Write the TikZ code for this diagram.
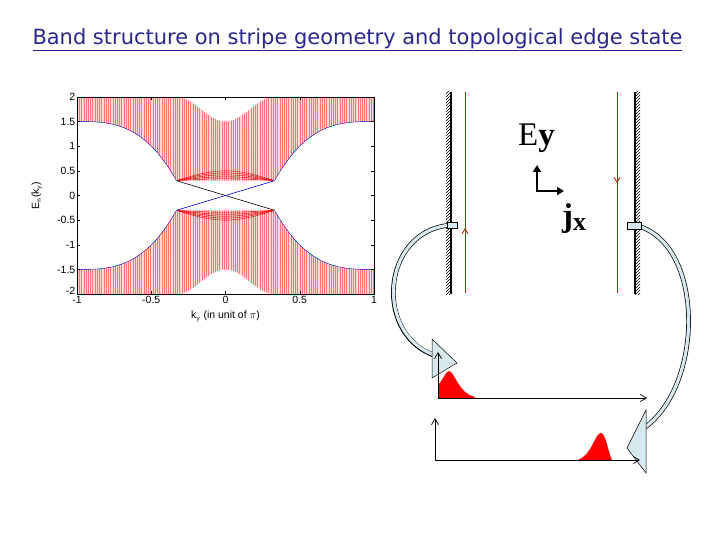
\documentclass[tikz,border=0pt]{standalone}
\usepackage{fontspec}
\setmainfont{Liberation Sans}
\newfontfamily\seriff{Liberation Serif}
\newfontfamily\titlef{DejaVu Sans}
\usetikzlibrary{arrows.meta,patterns}
\definecolor{titleblue}{RGB}{40,40,140}
\definecolor{arrfill}{RGB}{215,232,238}
\tikzset{
  tick/.style={font=\fontsize{10.5}{10.5}\selectfont},
  wall/.style={line width=1.6pt,black},
  edge/.style={red!85!black,line width=0.8pt},
  hollow/.style={draw=black,line width=0.5pt,fill=arrfill},
  ax/.style={line width=0.7pt,-{Straight Barb[length=6pt,width=7pt]}},
  peak/.style={fill=red,draw=none},
}
\begin{document}
\begin{tikzpicture}[x=1pt,y=-1pt,
  declare function={Lo(\k)=(abs(\k)<0.33)?0.3:(1.5-1.2*(1-(abs(\k)-0.33)/0.67)^3);
                    Up(\k)=(abs(\k)<0.33)?(1.5+0.25*(1-cos(180*\k/0.33))):2;}]
\useasboundingbox (0,0) rectangle (720,540);
% title
\node[text=titleblue,font=\titlef\fontsize{18}{20}\selectfont] (title) at (357.5,40) {\resizebox{650pt}{!}{\underline{Band structure on stripe geometry and topological edge state}}};
% band plot
\begin{scope}[shift={(225.5,195.5)},x=148.5pt,y=49.3pt]
 \foreach \s in {1,-1}{
  \begin{scope}[yscale=\s]
   \begin{scope}
    \clip plot[domain=-1:1,samples=101] (\x,{Lo(\x)}) -- plot[domain=1:-1,samples=101] (\x,{Up(\x)}) -- cycle;
    \fill[red!14] (-1,0) rectangle (1,2);
    \foreach \k in {-1,-0.985,...,1.01} \draw[red!55,line width=0.25pt] (\k,0) -- (\k,2);
    \foreach \f in {0.1,0.2,0.3,0.4,0.5,0.6,0.7,0.8,0.9}
      \draw[red!40,line width=0.25pt,densely dotted] plot[domain=-1:1,samples=81] (\x,{Lo(\x)+(Up(\x)-Lo(\x))*\f});
    \foreach \f in {0.04,0.08,0.12,0.16,0.2}
      \draw[red!90!black,line width=0.4pt] plot[domain=-0.33:0.33,samples=41] (\x,{0.3+\f*cos(90*\x/0.33)});
   \end{scope}
   \draw[blue!70!black,line width=0.4pt] plot[domain=-1:-0.33,samples=40] (\x,{Lo(\x)});
   \draw[blue!70!black,line width=0.4pt] plot[domain=0.33:1,samples=40] (\x,{Lo(\x)});
  \end{scope}}
 \draw[black,line width=0.6pt] (-0.33,0.3) -- (0.33,-0.3);
 \draw[blue!80!black,line width=0.6pt] (-0.33,-0.3) -- (0.33,0.3);
 \draw[line width=0.4pt] (-1,-2) rectangle (1,2);
 \foreach \v in {2,1.5,1,0.5,0,-0.5,-1,-1.5}{
   \node[tick,anchor=east,inner sep=1.5pt] at (-1,\v) {\v};}
 \node[tick,anchor=south east,inner sep=1.5pt,yshift=-2.5pt] at (-1,-2) {-2};
 \foreach \v in {2,1.5,1,0.5,0,-0.5,-1,-1.5,-2}{
   \draw[line width=0.3pt] (-1,\v) -- ++(3pt,0) (1,\v) -- ++(-3pt,0);}
 \foreach \v in {-1,-0.5,0,0.5,1}{
   \draw[line width=0.3pt] (\v,-2) -- ++(0,3pt) (\v,2) -- ++(0,-3pt);
   \node[tick,anchor=north,inner sep=2pt] at (\v,-2) {\v};}
 \node[tick,rotate=90] (ylab) at (-1.27,0) {E$_{\mathsf{n}}$(k$_{\mathsf{y}}$)};
 \node[tick] (xlab) at (0,-2.45) {k$_{\mathsf{y}}$ (in unit of $\pi$)};
\end{scope}
% hatched walls
\fill[pattern=north east lines] (446,92) rectangle (451,294);
\draw[wall] (451,92) -- (451,294);
\fill[pattern=north east lines] (635,92) rectangle (640,294);
\draw[wall] (635,92) -- (635,294);
% edge currents
\draw[edge] (465,92) -- (465,293);
\draw[edge,-{Straight Barb[length=5pt,width=6pt]}] (465,240) -- (465,228);
\draw[edge] (617,92) -- (617,293);
\draw[edge,-{Straight Barb[length=5pt,width=6pt]}] (617,170) -- (617,183);
% Ey jx
\node[font=\seriff\fontsize{33}{33}\selectfont,anchor=base west,inner sep=0] (E) at (518,146) {E\textbf{y}};
\node[font=\seriff\fontsize{33}{33}\selectfont,anchor=base west,inner sep=0] (J) at (562,226) {\textbf{j}\raisebox{-4pt}{\textbf{\fontsize{26}{26}\selectfont x}}};
\coordinate (o) at (537,191);
\draw[line width=2.2pt,-{Triangle[length=7pt,width=8pt]}] (o) -- (537,165);
\draw[line width=2.2pt,-{Triangle[length=7pt,width=8pt]}] ([xshift=-1.1pt]o) -- (564,191);
% hollow curved arrows
\draw[line width=4.6pt] (453,225) .. controls (380,228) and (372,340) .. (440,357);
\draw[line width=3.2pt,arrfill] (453,225) .. controls (380,228) and (372,340) .. (441,357);
\draw[hollow] (447,222) rectangle (457,228);
\draw[hollow] (432,339) -- (457,363) -- (432,378) -- cycle;
\draw[line width=4.6pt] (634,225) .. controls (705,240) and (705,385) .. (644,428);
\draw[line width=3.2pt,arrfill] (634,225) .. controls (705,240) and (705,385) .. (644,428);
\draw[hollow] (627,222) rectangle (641,229);
\draw[hollow] (646,410) -- (627,448) -- (646,473) -- cycle;
% lower plots
\coordinate (p1) at (438,398);
\draw[red!70,line width=1pt] (p1) -- (602,398);
\fill[peak] (438,398) -- (438,385) .. controls (443,380) and (446,371) .. (449,371) .. controls (455,372) and (458,393) .. (475,397) -- (475,398) -- cycle;
\draw[ax] (p1) -- (438,352);
\draw[ax] (p1) -- (647,398);
\coordinate (p2) at (435,460);
\draw[red!70,line width=1pt] (450,460) -- (600,460);
\fill[peak] (578,460) .. controls (592,455) and (595,433) .. (601,433) .. controls (606,434) and (608,452) .. (612,460) -- cycle;
\draw[ax] (p2) -- (435,418);
\draw[ax] (p2) -- (640,460);
\end{tikzpicture}
\end{document}
